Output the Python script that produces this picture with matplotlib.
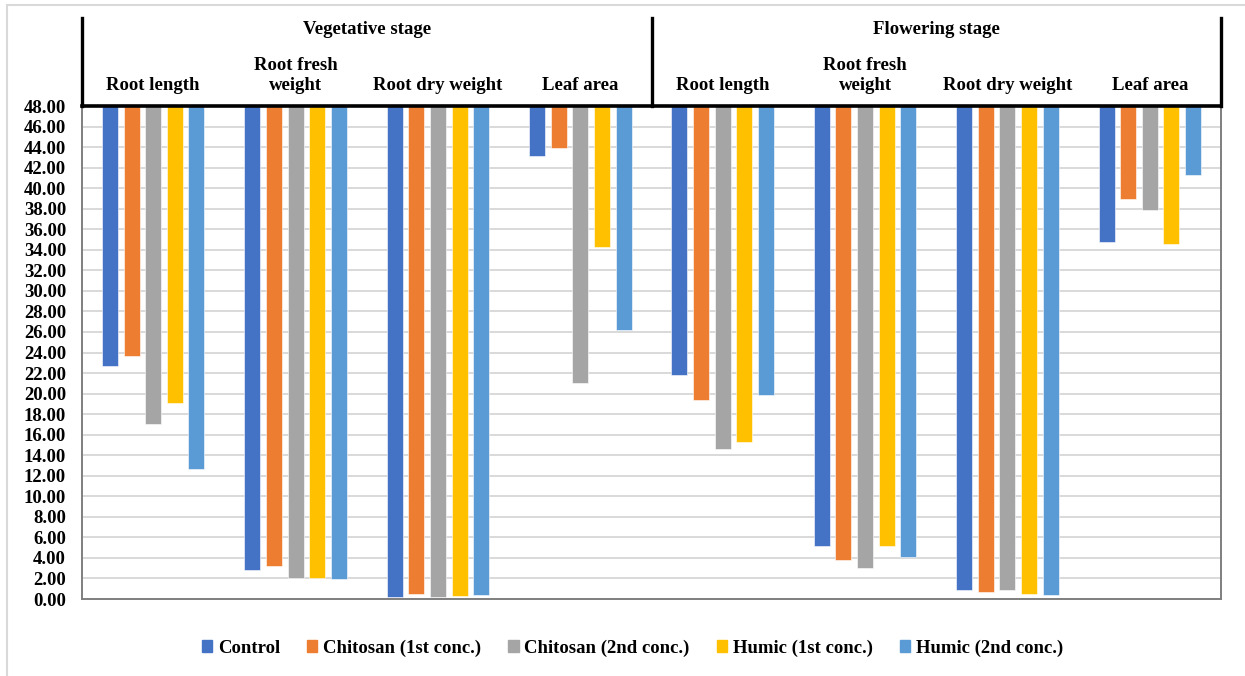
import matplotlib
matplotlib.use("Agg")
import matplotlib.pyplot as plt
from matplotlib.patches import Rectangle, Patch
from matplotlib.lines import Line2D
import numpy as np

plt.rcParams['font.family'] = ['Liberation Serif', 'DejaVu Serif']
plt.rcParams['font.weight'] = 'bold'

# Category labels (two growth stages, four traits each)
stages = ["Vegetative stage", "Flowering stage"]
traits = ["Root length", "Root fresh\nweight", "Root dry weight", "Leaf area"]

series_names = ["Control", "Chitosan (1st conc.)", "Chitosan (2nd conc.)",
                "Humic (1st conc.)", "Humic (2nd conc.)"]
colors = ["#4472C4", "#ED7D31", "#A5A5A5", "#FFC000", "#5B9BD5"]

# Values per series, ordered: vegetative (4 traits) then flowering (4 traits)
control   = [22.66, 2.80, 0.23, 43.09, 21.80, 5.16, 0.88, 34.76]
chitosan1 = [23.70, 3.26, 0.53, 43.90, 19.40, 3.77, 0.71, 38.98]
chitosan2 = [17.00, 2.05, 0.20, 21.00, 14.60, 3.02, 0.88, 37.90]
humic1    = [19.10, 2.00, 0.26, 34.30, 15.30, 5.19, 0.52, 34.57]
humic2    = [12.67, 1.95, 0.39, 26.20, 19.90, 4.06, 0.42, 41.26]
series = [control, chitosan1, chitosan2, humic1, humic2]

y_top = 48.0
y_ticks = np.arange(0, 49, 2)
fs = 13.5

fig = plt.figure(figsize=(12.45, 6.76), dpi=100)
ax = fig.add_axes([82 / 1245, 1 - 599 / 676, (1221 - 82) / 1245, (599 - 106) / 676])

n_cat = len(stages) * len(traits)
x = np.arange(n_cat)
slot = 0.152
width = 0.112
for i, (vals, col) in enumerate(zip(series, colors)):
    vals = np.asarray(vals)
    # bars hang from the top of the axis down to each value
    ax.bar(x + (i - 2) * slot, y_top - vals, bottom=vals, width=width,
           color=col, edgecolor="white", linewidth=0.4, zorder=3)

ax.set_xlim(-0.5, n_cat - 0.5)
ax.set_ylim(0, y_top)
ax.set_yticks(y_ticks)
ax.set_yticklabels([f"{v:.2f}" for v in y_ticks], fontsize=fs, fontweight="bold")
ax.tick_params(axis="y", length=0, pad=11.5)
ax.set_xticks([])
ax.yaxis.grid(True, color="#d9d9d9", linewidth=1.4, zorder=0)
ax.set_axisbelow(True)

for side in ("left", "bottom", "right"):
    ax.spines[side].set_color("#7f7f7f")
    ax.spines[side].set_linewidth(1.4)
ax.spines["top"].set_visible(False)

# Header frame with stage and trait labels
trans = ax.transAxes
top_frac = 1 + (106 - 18) / 493
ax.add_line(Line2D([0, 1], [1, 1], transform=trans, color="black",
                   linewidth=2.6, clip_on=False, zorder=5))
for xf in (0.0, 0.5, 1.0):
    ax.add_line(Line2D([xf, xf], [1, top_frac], transform=trans, color="black",
                       linewidth=2.4, clip_on=False, zorder=5))

for s, stage in enumerate(stages):
    ax.text(0.25 + 0.5 * s, 1 + 76 / 493, stage, transform=trans,
            ha="center", va="center", fontsize=fs, fontweight="bold")
    for t, trait in enumerate(traits):
        xf = (s * len(traits) + t + 0.5) / n_cat
        yf = 1 + (106 - 75.5) / 493 if "\n" in trait else 1 + (106 - 85) / 493
        ax.text(xf, yf, trait, transform=trans, ha="center", va="center",
                fontsize=fs, fontweight="bold", linespacing=1.2)

# Legend
handles = [Patch(facecolor=c, edgecolor=c) for c in colors]
fig.legend(handles, series_names, loc="center",
           bbox_to_anchor=(0.5 + 10 / 1245, 1 - 648 / 676),
           ncol=5, frameon=False, handlelength=0.55, handleheight=0.55,
           handletextpad=0.3, columnspacing=1.45,
           prop={"size": fs, "weight": "bold"})

# Outer chart border
fig.patches.append(Rectangle((7 / 1245, -0.02), 1.05, 1 - 5 / 676 + 0.02,
                             transform=fig.transFigure, fill=False,
                             edgecolor="#d9d9d9", linewidth=1.5))

fig.savefig("out.png", dpi=100)
